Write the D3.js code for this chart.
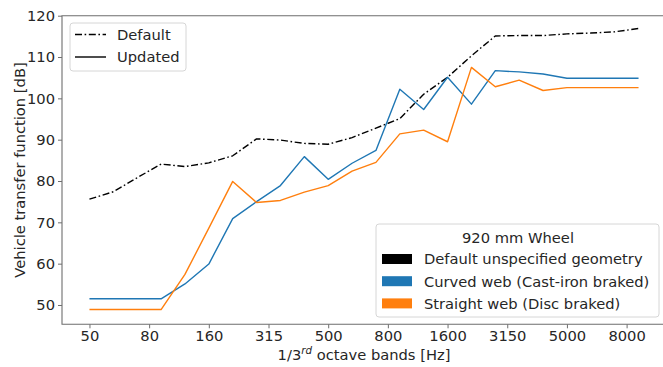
<!DOCTYPE html>
<html>
<head>
<meta charset="utf-8">
<script src="https://cdn.jsdelivr.net/npm/d3@7"></script>
<style>
  html, body { margin: 0; padding: 0; background: #fff; }
  svg { display: block; }
  svg text { font-family: "DejaVu Sans"; }
</style>
</head>
<body>
<svg id="chart" width="663" height="367" font-family="DejaVu Sans"></svg>
<script>
// 1/3 octave band centre frequencies [Hz]
const bands = [50, 63, 80, 100, 125, 160, 200, 250, 315, 400, 500, 630, 800,
               1000, 1250, 1600, 2000, 2500, 3150, 4000, 5000, 6300, 8000, 10000];

// Vehicle transfer function [dB] per band
const defaultGeometry = [75.6, 77.4, 80.8, 84.1, 83.5, 84.4, 86.1, 90.2, 89.9, 89.1, 88.9, 90.5,
                         92.8, 95.1, 101.0, 105.1, 110.3, 115.1, 115.2, 115.2, 115.6, 115.8, 116.1, 116.9];
const curvedWeb = [51.5, 51.5, 51.5, 51.5, 55.1, 59.9, 70.9, 75.0, 78.9, 85.9, 80.4, 84.3,
                   87.4, 102.2, 97.3, 105.1, 98.6, 106.7, 106.4, 105.9, 104.85, 104.85, 104.85, 104.85];
const straightWeb = [48.9, 48.9, 48.9, 48.9, 57.4, 68.6, 79.9, 74.8, 75.3, 77.3, 78.9, 82.4,
                     84.5, 91.4, 92.3, 89.5, 107.5, 102.8, 104.4, 101.9, 102.6, 102.6, 102.6, 102.6];

// Axis ticks: x ticks every 2.5 band indices, labelled with the nearest band
const xTickPositions = [0, 2.5, 5, 7.5, 10, 12.5, 15, 17.5, 20, 22.5];
const xTickLabels = ["50", "80", "160", "315", "500", "800", "1600", "3150", "5000", "8000"];
const yTicks = [50, 60, 70, 80, 90, 100, 110, 120];

const wheelTitle = "920 mm Wheel";
const wheelNames = ["Default unspecified geometry", "Curved web (Cast-iron braked)", "Straight web (Disc braked)"];
const wheelColors = ["#000000", "#1f77b4", "#ff7f0e"];

const FONT = "DejaVu Sans";
const FS = 14.7;
const svg = d3.select("#chart");
const plot = { left: 62, right: 666, top: 15.7, bottom: 324.3 };

const x = d3.scaleLinear().domain([-1.15, 24.15]).range([plot.left, plot.right]);
const y = d3.scaleLinear().domain([45.33, 120]).range([plot.bottom, plot.top]);

const textColor = "#262626";
const spineColor = "#6e6e6e";

// Spines (left, bottom, top; the right one falls outside the page)
const spines = svg.append("g").attr("stroke", spineColor).attr("stroke-width", 1.1).attr("fill", "none");
spines.append("path")
  .attr("d", `M${plot.right},${plot.top}H${plot.left}V${plot.bottom}H${plot.right}`);

// X axis
const xAxis = d3.axisBottom(x)
  .tickValues(xTickPositions)
  .tickFormat((d, i) => xTickLabels[i])
  .tickSize(4).tickPadding(2.5);
const gx = svg.append("g").attr("transform", `translate(0,${plot.bottom})`).call(xAxis)
  .attr("font-family", FONT).attr("font-size", FS);
gx.select(".domain").remove();
gx.selectAll(".tick line").attr("stroke", spineColor).attr("stroke-width", 1);
gx.selectAll(".tick text").attr("fill", textColor).attr("font-size", FS).attr("font-family", FONT);

// Y axis
const yAxis = d3.axisLeft(y).tickValues(yTicks).tickSize(4).tickPadding(3);
const gy = svg.append("g").attr("transform", `translate(${plot.left},0)`).call(yAxis)
  .attr("font-family", FONT).attr("font-size", FS);
gy.select(".domain").remove();
gy.selectAll(".tick line").attr("stroke", spineColor).attr("stroke-width", 1);
gy.selectAll(".tick text").attr("fill", textColor).attr("font-size", FS).attr("font-family", FONT);

// Axis titles
const xTitle = svg.append("text")
  .attr("x", (plot.left + plot.right) / 2).attr("y", 359.5)
  .attr("text-anchor", "middle").attr("fill", textColor)
  .attr("font-family", FONT).attr("font-size", FS);
xTitle.append("tspan").text("1/3");
xTitle.append("tspan").attr("dy", -6).attr("font-size", 10.3).attr("font-style", "italic").text("rd");
xTitle.append("tspan").attr("dy", 6).text(" octave bands [Hz]");

svg.append("text")
  .attr("transform", `translate(24.5,${(plot.top + plot.bottom) / 2}) rotate(-90)`)
  .attr("text-anchor", "middle").attr("fill", textColor)
  .attr("font-family", FONT).attr("font-size", FS)
  .text("Vehicle transfer function [dB]");

// Lines
const line = d3.line().x((d, i) => x(i)).y(d => y(d));
const series = [
  { values: defaultGeometry, color: wheelColors[0], dash: "7,2.6,1.6,2.6" },
  { values: curvedWeb, color: wheelColors[1], dash: null },
  { values: straightWeb, color: wheelColors[2], dash: null }
];
svg.append("g").selectAll("path").data(series).join("path")
  .attr("d", d => line(d.values))
  .attr("fill", "none")
  .attr("stroke", d => d.color)
  .attr("stroke-width", 1.4)
  .attr("stroke-dasharray", d => d.dash)
  .attr("stroke-linejoin", "round");

// Line-style legend (top left)
const lg1 = svg.append("g");
lg1.append("rect").attr("x", 70).attr("y", 23).attr("width", 116).attr("height", 48)
  .attr("rx", 3).attr("fill", "#fff").attr("fill-opacity", 0.8)
  .attr("stroke", "#d6d6d6").attr("stroke-width", 1);
const styleItems = [{ label: "Default", dash: "7,2.6,1.6,2.6", yy: 34.5 }, { label: "Updated", dash: null, yy: 57 }];
styleItems.forEach(it => {
  lg1.append("line").attr("x1", 75).attr("x2", 106).attr("y1", it.yy).attr("y2", it.yy)
    .attr("stroke", "#000").attr("stroke-width", 1.4).attr("stroke-dasharray", it.dash);
  lg1.append("text").attr("x", 117).attr("y", it.yy + 5.3)
    .attr("fill", textColor).attr("font-family", FONT).attr("font-size", FS).text(it.label);
});

// Wheel legend (bottom right)
const lg2 = svg.append("g");
lg2.append("rect").attr("x", 376).attr("y", 224).attr("width", 283).attr("height", 93)
  .attr("rx", 3).attr("fill", "#fff").attr("fill-opacity", 0.8)
  .attr("stroke", "#d6d6d6").attr("stroke-width", 1);
lg2.append("text").attr("x", 518).attr("y", 242.5).attr("text-anchor", "middle")
  .attr("fill", textColor).attr("font-family", FONT).attr("font-size", FS).text(wheelTitle);
wheelNames.forEach((name, i) => {
  const cy = 259 + i * 22.2;
  lg2.append("rect").attr("x", 382).attr("y", cy - 5).attr("width", 30).attr("height", 10)
    .attr("fill", wheelColors[i]);
  lg2.append("text").attr("x", 424).attr("y", cy + 5.3)
    .attr("fill", textColor).attr("font-family", FONT).attr("font-size", FS).text(name);
});
</script>
</body>
</html>
